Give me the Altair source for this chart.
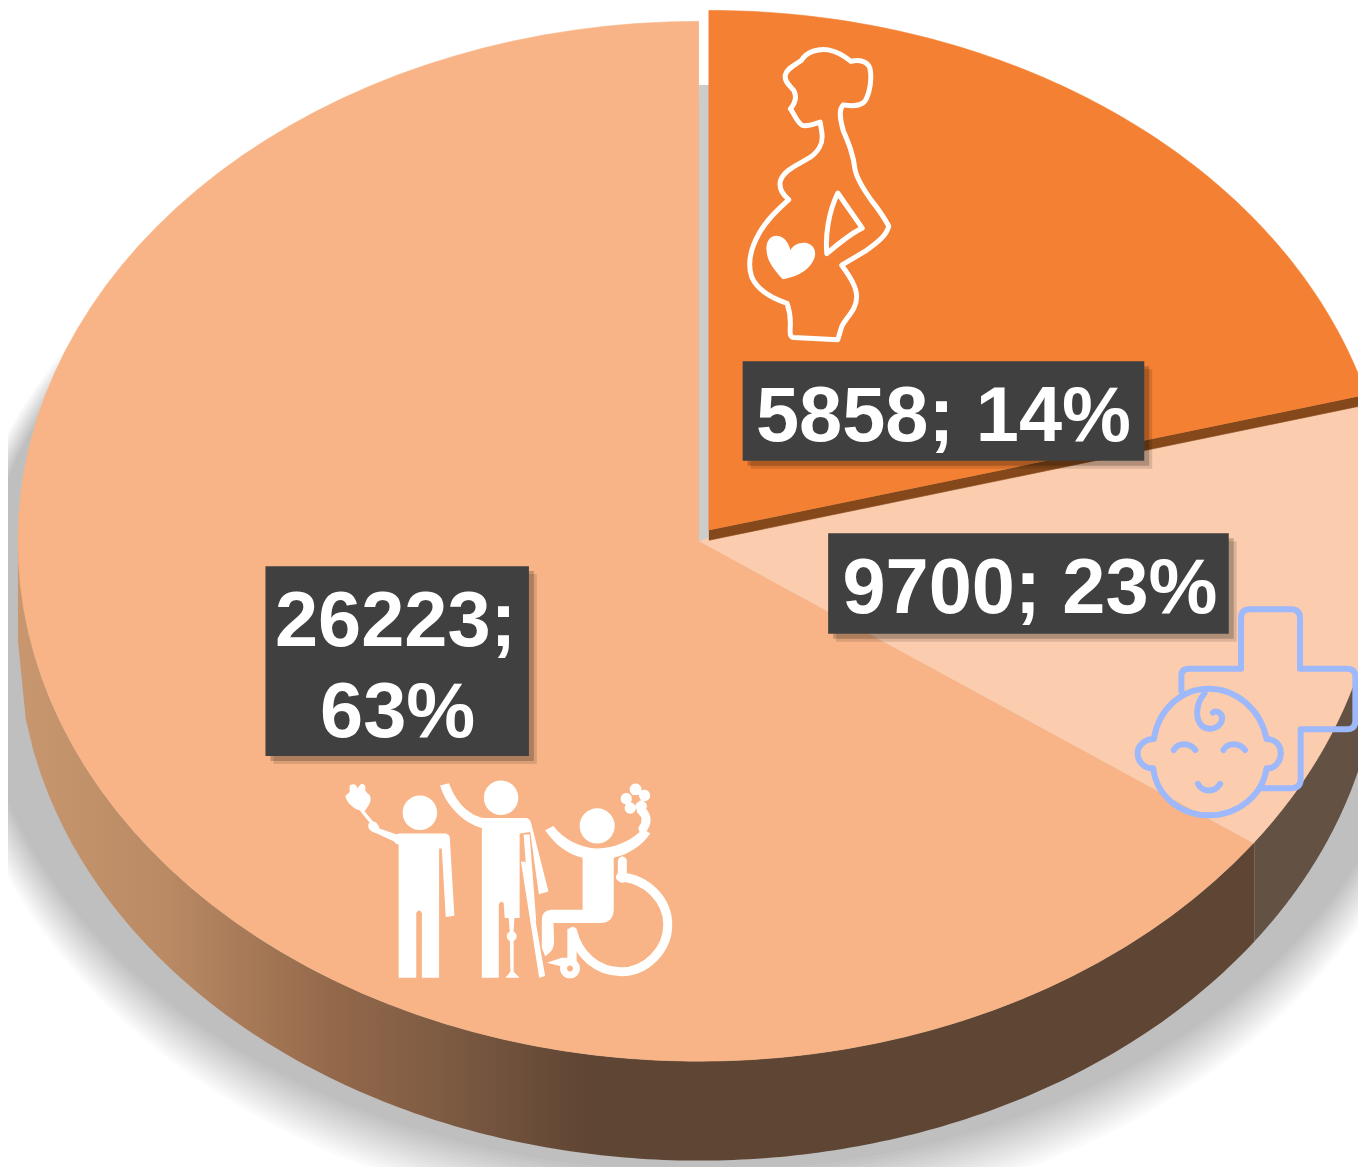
import numpy as np
import pandas as pd
import altair as alt

# ---- values
values = [5858, 9700, 26223]
shares = [14, 23, 63]
label_lines = [["5858; 14%"], ["9700; 23%"], ["26223;", "63%"]]
# visual sector boundaries (clockwise from 12 o'clock, in the tilted disc)
edge_orange_light = 74.9
edge_light_big = 125.5
c_orange, c_light, c_big = "#F38033", "#FBCCAD", "#F8B486"
c_band, c_wall_right, c_box = "#85481B", "#635144", "#404040"

X_DOM, Y_DOM = [8, 1366], [1167, 8]
A, B, CX, CY = 685, 523, 703, 541
OCX, OCY = 713, 530
DEPTH = 100


def X(f="x"):
    return alt.X(f"{f}:Q", scale=alt.Scale(domain=X_DOM), axis=None)


def Y(f="y"):
    return alt.Y(f"{f}:Q", scale=alt.Scale(domain=Y_DOM), axis=None)


def sector(cx, cy, t0, t1, a=A, b=B, n=90):
    th = np.radians(np.linspace(t0, t1, n))
    xs = np.concatenate([[cx], cx + a * np.sin(th)])
    ys = np.concatenate([[cy], cy - b * np.cos(th)])
    return pd.DataFrame({"x": xs, "y": ys, "i": np.arange(n + 1)})


def poly(df, color, **kw):
    return alt.Chart(df).mark_line(fill=color, stroke=color, strokeWidth=0.6, **kw).encode(
        x=X(), y=Y(), order="i:Q")


# shadow: stacked translucent ellipses
rings = []
N = 16
for r in range(N):
    f = r / (N - 1)
    a, b, cy = 755 - 25 * f, 575 - 40 * f, 655 - 15 * f
    th = np.radians(np.linspace(0, 360, 140))
    rings.append(pd.DataFrame({"x": CX + a * np.sin(th), "y": cy - b * np.cos(th),
                               "i": np.arange(140), "ring": r}))
shadow = alt.Chart(pd.concat(rings)).mark_line(
    fill="#000000", fillOpacity=0.014, strokeWidth=0).encode(
    x=X(), y=Y(), order="i:Q", detail="ring:N")

strip = alt.Chart(pd.DataFrame({"x": [703], "x2": [714], "y": [82], "y2": [540]})).mark_rect(
    color="#CCCCCC").encode(x=X(), x2="x2:Q", y=Y(), y2="y2:Q")


# walls
def wall(x0, x1, n=160):
    xs = np.linspace(x0, x1, n)
    ys = CY + B * np.sqrt(np.clip(1 - ((xs - CX) / A) ** 2, 0, 1))
    return pd.DataFrame({"x": xs, "y": ys, "y2": ys + DEPTH})


wall_grad = alt.Gradient(
    gradient="linear", x1=0, x2=1, y1=0, y2=0,
    stops=[alt.GradientStop(offset=0, color="#C8976F"),
           alt.GradientStop(offset=0.12, color="#B98A64"),
           alt.GradientStop(offset=0.25, color="#95694B"),
           alt.GradientStop(offset=0.35, color="#7C5A42"),
           alt.GradientStop(offset=0.46, color="#5F4533"),
           alt.GradientStop(offset=1, color="#5F4533")])
wall_left = alt.Chart(wall(18, 1262)).mark_area(color=wall_grad).encode(x=X(), y=Y(), y2="y2:Q")
wall_right = alt.Chart(wall(1262, 1388)).mark_area(color=c_wall_right).encode(x=X(), y=Y(), y2="y2:Q")

# top faces
big = poly(sector(CX, CY, edge_light_big, 360), c_big)
light = poly(sector(CX, CY, edge_orange_light - 8, edge_light_big), c_light)
orange = poly(sector(OCX, OCY, 0, edge_orange_light), c_orange)
ex = OCX + A * np.sin(np.radians(edge_orange_light))
ey = OCY - B * np.cos(np.radians(edge_orange_light))
band_df = pd.DataFrame({"x": [OCX, ex, ex, OCX], "y": [OCY, ey, ey + 10, OCY + 10], "i": [0, 1, 2, 3]})
band = poly(band_df, c_band)


# icons: SVG paths in 3x crop pixels relative to an anchor
def circ(cx, cy, r):
    k = 0.5523 * r
    return (f"M{cx-r},{cy} C{cx-r},{cy-k} {cx-k},{cy-r} {cx},{cy-r} C{cx+k},{cy-r} {cx+r},{cy-k} {cx+r},{cy} "
            f"C{cx+r},{cy+k} {cx+k},{cy+r} {cx},{cy+r} C{cx-k},{cy+r} {cx-r},{cy+k} {cx-r},{cy} Z ")


def icon(x, y, path, color, filled, sw=0, scale=1 / 3):
    df = pd.DataFrame({"x": [x], "y": [y]})
    kw = dict(shape=path, size=4 * scale ** 2, opacity=1)
    if filled:
        m = alt.Chart(df).mark_point(filled=True, fill=color, strokeWidth=0, **kw)
    else:
        m = alt.Chart(df).mark_point(filled=False, stroke=color, strokeWidth=sw, strokeCap="round",
                                     strokeJoin="round", **kw)
    return m.encode(x=X(), y=Y())


woman = ("M378,172 C395,145 430,135 460,140 C490,146 510,160 528,175 C545,170 575,170 585,195 "
         "C592,225 585,270 570,295 C555,312 530,310 505,306 C490,320 495,350 505,385 C520,420 535,455 540,500 "
         "C545,530 565,560 590,595 C610,620 630,650 642,672 C635,700 610,720 575,745 L500,790 "
         "C525,825 545,855 545,885 C545,925 515,945 500,975 L488,1015 L355,1008 C340,1005 345,990 345,965 "
         "C345,945 342,925 335,905 C290,890 245,865 228,825 C215,785 225,740 250,695 C275,650 310,620 340,592 "
         "C320,575 310,555 315,535 C325,505 360,490 395,470 C430,450 445,420 440,390 L435,358 "
         "C420,362 400,372 382,368 C365,360 358,335 345,318 C360,300 365,280 355,262 C345,250 325,235 330,215 "
         "C335,195 360,185 378,172 Z "
         "M488,572 L562,678 C525,695 490,725 455,755 C450,700 460,630 488,572 Z")
heart = ("M345,745 C340,715 315,695 292,703 C270,712 268,745 280,775 C292,800 310,820 322,832 "
         "C360,825 395,810 412,780 C430,750 415,725 390,722 C370,720 352,730 345,745 Z")

baby = ("M205,305 L205,260 Q205,238 228,238 L385,238 L385,85 Q385,58 412,58 L535,58 Q563,58 563,85 L563,238 "
        "L705,238 Q730,238 730,262 L730,395 Q730,420 705,420 L565,420 L565,570 Q565,598 538,598 L450,598 "
        "M122,450 C135,360 205,298 288,298 C370,298 445,360 462,450 C490,450 505,470 505,492 C505,520 485,540 462,538 "
        "C450,620 375,680 288,680 C200,680 130,620 120,538 C95,540 73,520 73,492 C73,470 95,450 122,450 Z "
        "M275,312 C250,340 245,385 265,408 C290,430 325,415 328,388 C328,370 310,362 300,370 "
        "M182,483 C195,460 230,460 247,483 M332,483 C345,460 380,460 397,483 M255,585 C270,612 305,612 322,585")

people_fill = (
    circ(277, 132, 52) +
    "M215,195 L355,195 Q365,197 367,205 L381,443 L355,447 L343,240 L335,240 L335,630 L283,630 L283,435 "
    "Q275,420 266,435 L266,630 L213,630 L213,228 Q205,228 198,218 C170,205 150,195 135,190 C120,185 118,170 125,162 "
    "L95,125 C75,120 55,100 52,82 L65,70 L65,50 Q85,40 88,58 L100,45 Q115,45 112,65 L120,75 Q130,80 128,95 "
    "C125,110 115,120 110,128 L135,158 Q150,160 155,180 L205,197 Z " +
    circ(522, 87, 52) +
    "M338,50 L365,43 C385,100 425,140 470,148 L598,148 Q610,150 613,165 L665,370 L636,378 L610,190 L578,195 "
    "L578,450 L533,450 L530,405 Q520,395 515,410 L515,630 L464,630 L464,178 C410,165 355,110 338,50 Z "
    "M545,450 L562,450 L560,490 L560,612 L578,630 L535,630 L550,612 L548,490 Z " + circ(554, 505, 15) +
    "M582,280 L595,280 L655,625 L637,630 Z M590,198 L608,198 L628,460 L610,462 Z " +
    circ(812, 172, 53) +
    "M655,185 L680,172 C710,212 760,238 812,240 C865,240 920,215 950,180 L972,195 C945,235 905,258 862,268 "
    "L862,425 Q860,465 820,465 L680,465 L682,520 C682,545 670,555 655,565 L645,540 L645,455 Q645,428 672,425 "
    "L768,425 L768,268 C725,258 685,230 655,185 Z " +
    "M660,585 L705,570 L722,570 L722,482 L750,482 L750,590 L700,595 Z " + circ(730, 602, 30) +
    circ(928, 62, 18) + circ(955, 80, 17) + circ(945, 112, 17) + circ(912, 118, 17) + circ(900, 90, 17))
people_line = ("M882,326 C960,330 1025,395 1025,470 C1025,545 960,612 885,612 C810,612 755,560 738,490 "
               "M888,278 L888,330 M950,180 C965,160 962,140 945,125")
holes = circ(730, 602, 9) + circ(928, 91, 12)

icons = [
    icon(680, 0, woman, "#FFFFFF", False, 5),
    icon(680, 0, heart, "#FFFFFF", True),
    icon(1120, 590, baby, "#9DB8FB", False, 6),
    icon(330, 770, people_fill, "#FFFFFF", True),
    icon(330, 770, people_line, "#FFFFFF", False, 9),
    icon(330, 770, holes, c_big, True),
]

# label boxes
boxes = pd.DataFrame({"x": [747, 833, 267], "x2": [1151, 1236, 532],
                      "y": [360, 533, 566], "y2": [460, 634, 757]})
def shadow_rect(dx, dy, op):
    d = boxes.assign(x=boxes.x + dx, x2=boxes.x2 + dx, y=boxes.y + dy, y2=boxes.y2 + dy)
    return alt.Chart(d).mark_rect(color="#000000", opacity=op).encode(x=X(), x2="x2:Q", y=Y(), y2="y2:Q")


box_layer = alt.Chart(boxes).mark_rect(color=c_box).encode(x=X(), x2="x2:Q", y=Y(), y2="y2:Q")

texts = pd.DataFrame({
    "x": [949, 1036, 398, 400],
    "y": [440, 613, 646, 738],
    "t": [label_lines[0][0], label_lines[1][0], label_lines[2][0], label_lines[2][1]],
})
text_layer = alt.Chart(texts).mark_text(
    font="Liberation Sans", fontWeight="bold", fontSize=78, color="#FFFFFF",
    align="center", baseline="alphabetic").encode(x=X(), y=Y(), text="t:N")

chart = alt.layer(
    shadow, strip, wall_left, wall_right, big, light, band, orange, *icons,
    shadow_rect(8, 8, 0.12), shadow_rect(5, 5, 0.2), box_layer, text_layer,
).properties(
    width=1358, height=1159, padding=0, background="#FFFFFF",
    autosize=alt.AutoSizeParams(type="none"),
).configure_view(stroke=None)

chart.save("out.html", embed_options={"renderer": "svg", "actions": False})
